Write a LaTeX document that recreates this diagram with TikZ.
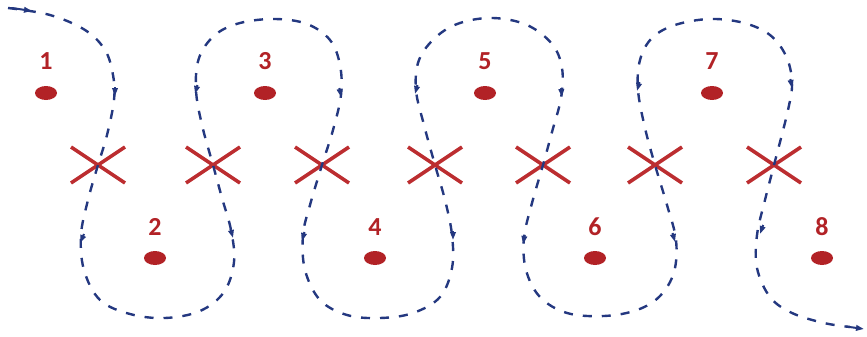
\documentclass[tikz,border=0pt]{standalone}
\usepackage{fontspec}
\setmainfont{Carlito}
\usetikzlibrary{arrows.meta,shapes.geometric,calc}
\definecolor{dotred}{RGB}{178,34,38}
\definecolor{crossred}{RGB}{188,45,48}
\definecolor{pathblue}{RGB}{36,56,128}
\tikzset{
  dotmark/.style={ellipse, fill=dotred, minimum width=22pt, minimum height=14pt, inner sep=0pt},
  numlabel/.style={text=dotred, font=\fontsize{26}{26}\selectfont\bfseries, inner sep=0pt, anchor=base},
  crossline/.style={draw=crossred, line width=3.6pt},
  route/.style={draw=pathblue, line width=2.4pt, dash pattern=on 9pt off 10pt},
  downtip/.style={draw=pathblue, line width=2pt, -{Triangle[length=8pt,width=5.5pt]}},
}
\begin{document}
\begin{tikzpicture}[x=1pt,y=-1pt]
\useasboundingbox (0,0) rectangle (867,337);
% dots and labels
\foreach \n/\x/\y in {1/46/93,3/265/93,5/485/93,7/712/93,2/155/258,4/375/258,6/595/258,8/822/258}{
  \node[dotmark] (d\n) at (\x,\y) {};
  \node[numlabel] (l\n) at (\x,\y-23) {\n};
}
% crosses
\foreach \i/\x in {1/98,2/213,3/322,4/435,5/543,6/655,7/774}{
  \coordinate (x\i) at (\x,165);
  \draw[crossline] ($(x\i)+(-27,-18)$) -- ($(x\i)+(27,18)$);
  \draw[crossline] ($(x\i)+(-27,18)$) -- ($(x\i)+(27,-18)$);
}
% route
\draw[route] plot[smooth, tension=0.6] coordinates {
 (8,8) (50,15) (85,30) (105,50) (113,75) (114,100) (107,135) (x1) (88,200) (81,235) (84,270) (100,300) (130,314) (165,318) (200,311) (224,292) (234,262) (231,230) (222,198) (x2) (202,125) (196,90) (199,58) (215,35) (240,23) (275,19) (307,24) (330,40) (340,65) (341,95) (333,130) (x3) (310,205) (303,235) (305,270) (320,300) (347,315) (380,318) (413,313) (440,297) (452,268) (452,235) (445,200) (x4) (424,125) (416,90) (419,60) (436,37) (460,23) (493,18) (527,25) (552,44) (562,68) (561,98) (552,132) (x5) (532,203) (524,238) (526,270) (540,297) (567,313) (604,316) (637,310) (660,296) (674,272) (676,240) (667,205) (x6) (645,128) (638,90) (640,60) (652,38) (675,25) (710,19) (744,23) (770,35) (786,56) (792,82) (788,110) (x7) (765,200) (757,235) (757,268) (770,297) (792,313) (824,323) (850,327)};
% arrow tips
\foreach \x/\y/\dx in {115/96/0,80/243/-0.5,233/238/0.3,195/94/-0.3,341/97/0.2,302/241/-0.3,453/240/0,415/94/-0.3,562/97/0.1,523/244/-0.2,675/242/0.3,637/91/-0.3,792/88/0.2,760/234/-0.4}{
  \draw[downtip] (\x-\dx*8,\y-9) -- (\x,\y);
}
\draw[downtip] (12,8) -- (32,11);
\draw[downtip] (846,326.5) -- (864,329);
\end{tikzpicture}
\end{document}
